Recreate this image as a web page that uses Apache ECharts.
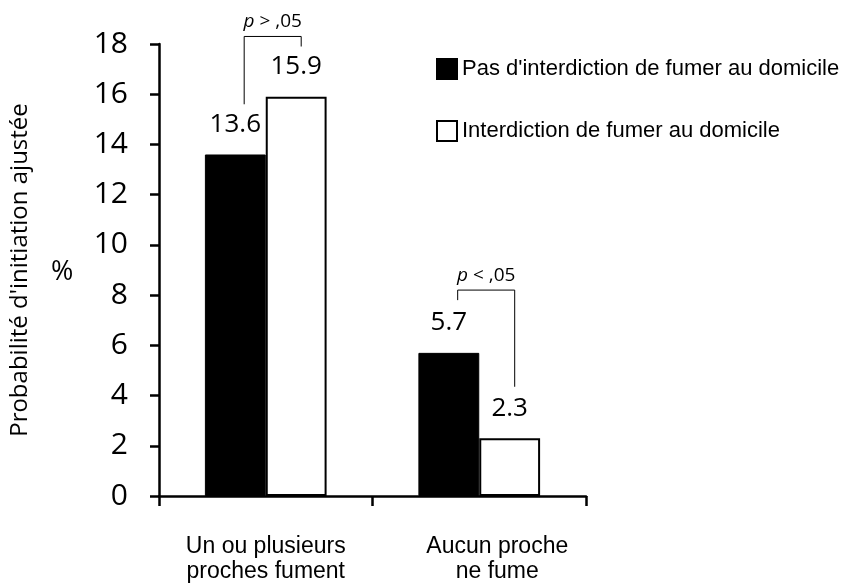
<!DOCTYPE html>
<html>
<head>
<meta charset="utf-8">
<script src="https://cdn.jsdelivr.net/npm/echarts@6/dist/echarts.min.js"></script>
<style>
  html, body { margin: 0; padding: 0; background: #fff; }
  #main { width: 850px; height: 584px; }
</style>
</head>
<body>
<div id="main"></div>
<script>
var categories = ['Un ou plusieurs\nproches fument', 'Aucun proche\nne fume'];
var seriesNames = ["Pas d'interdiction de fumer au domicile", 'Interdiction de fumer au domicile'];
var noBan = [13.6, 5.7];
var ban = [15.9, 2.3];
var yTicks = [0, 2, 4, 6, 8, 10, 12, 14, 16, 18];

// significance brackets: [category, top, left bottom, right bottom, operator]
var bracketCats = [0, 1];
var bracketTop = [18.3, 8.2];
var bracketLeftEnd = [15.6, 7.8];
var bracketRightEnd = [17.9, 4.35];
var bracketOps = ['>', '<'];

var numFont = '"Open Sans", sans-serif';
var textFont = '"Liberation Sans", Arial, sans-serif';

var myChart = echarts.init(document.getElementById('main'));

myChart.setOption({
    animation: false,
    backgroundColor: '#fff',
    grid: {
        left: 154,
        right: 264,
        top: 44,
        bottom: 83,
        containLabel: false
    },
    legend: {
        orient: 'vertical',
        left: 431,
        top: 53,
        itemWidth: 20,
        itemHeight: 20,
        itemGap: 40,
        icon: 'rect',
        textStyle: { fontFamily: textFont, fontSize: 22, color: '#000' },
        data: seriesNames
    },
    graphic: [{
        type: 'text',
        left: 51,
        top: 259,
        style: { text: '%', fontFamily: numFont, fontSize: 27, fill: '#000' }
    }],
    xAxis: {
        type: 'category',
        data: categories,
        axisLine: { lineStyle: { color: '#000', width: 2.5 } },
        axisTick: { show: true, length: 10, lineStyle: { color: '#000', width: 2.5 } },
        axisLabel: {
            interval: 0,
            margin: 38,
            fontFamily: textFont,
            fontSize: 23,
            lineHeight: 25,
            color: '#000',
            formatter: function (v, i) {
                var tag = i === 1 ? 'b' : 'a';
                return v.split('\n').map(function (l) { return '{' + tag + '|' + l + '}'; }).join('\n');
            },
            rich: {
                a: { fontFamily: textFont, fontSize: 23, lineHeight: 25, color: '#000' },
                b: { fontFamily: textFont, fontSize: 23, lineHeight: 25, color: '#000', padding: [0, 0, 0, 36] }
            }
        }
    },
    yAxis: {
        type: 'value',
        min: yTicks[0],
        max: yTicks[yTicks.length - 1],
        interval: 2,
        name: "Probabilité d'initiation ajustée",
        nameLocation: 'middle',
        nameRotate: 90,
        nameGap: 127,
        nameTextStyle: { fontFamily: numFont, fontSize: 24, color: '#000' },
        axisLine: { show: true, lineStyle: { color: '#000', width: 2.5 } },
        axisTick: { show: true, length: 9, lineStyle: { color: '#000', width: 2.5 } },
        splitLine: { show: false },
        axisLabel: { margin: 31, fontFamily: numFont, fontSize: 30, color: '#000' }
    },
    series: [
        {
            name: seriesNames[0],
            type: 'bar',
            data: noBan,
            barGap: '0%',
            barCategoryGap: '43%',
            itemStyle: { color: '#000', borderColor: '#000', borderWidth: 1 },
            label: {
                show: true,
                position: 'top',
                distance: 17,
                fontFamily: numFont,
                fontSize: 26,
                color: '#000'
            }
        },
        {
            name: seriesNames[1],
            type: 'bar',
            data: ban,
            itemStyle: { color: '#fff', borderColor: '#000', borderWidth: 2 },
            label: {
                show: true,
                position: 'top',
                distance: 17,
                fontFamily: numFont,
                fontSize: 26,
                color: '#000'
            }
        },
        {
            type: 'custom',
            silent: true,
            clip: false,
            data: bracketCats.map(function (c, i) {
                return [c, bracketTop[i], bracketLeftEnd[i], bracketRightEnd[i], i];
            }),
            renderItem: function (params, api) {
                var c = api.value(0);
                var band = api.size([1, 0])[0];
                var center = api.coord([c, 0])[0];
                var xl = center - band * 0.101;
                var xr = center + band * 0.166;
                var yt = api.coord([c, api.value(1)])[1];
                var yl = api.coord([c, api.value(2)])[1];
                var yr = api.coord([c, api.value(3)])[1];
                var op = bracketOps[api.value(4)];
                return {
                    type: 'group',
                    children: [
                        {
                            type: 'polyline',
                            shape: { points: [[xl, yl], [xl, yt], [xr, yt], [xr, yr]] },
                            style: { stroke: '#000', lineWidth: 1, fill: null }
                        },
                        {
                            type: 'text',
                            x: (xl + xr) / 2,
                            y: yt - 5,
                            style: {
                                text: '{i|p} ' + op + ' ,05',
                                align: 'center',
                                verticalAlign: 'bottom',
                                fontFamily: numFont,
                                fontSize: 19,
                                fill: '#000',
                                rich: {
                                    i: { fontStyle: 'italic', fontFamily: numFont, fontSize: 19, fill: '#000' }
                                }
                            }
                        }
                    ]
                };
            }
        }
    ]
});
</script>
</body>
</html>
